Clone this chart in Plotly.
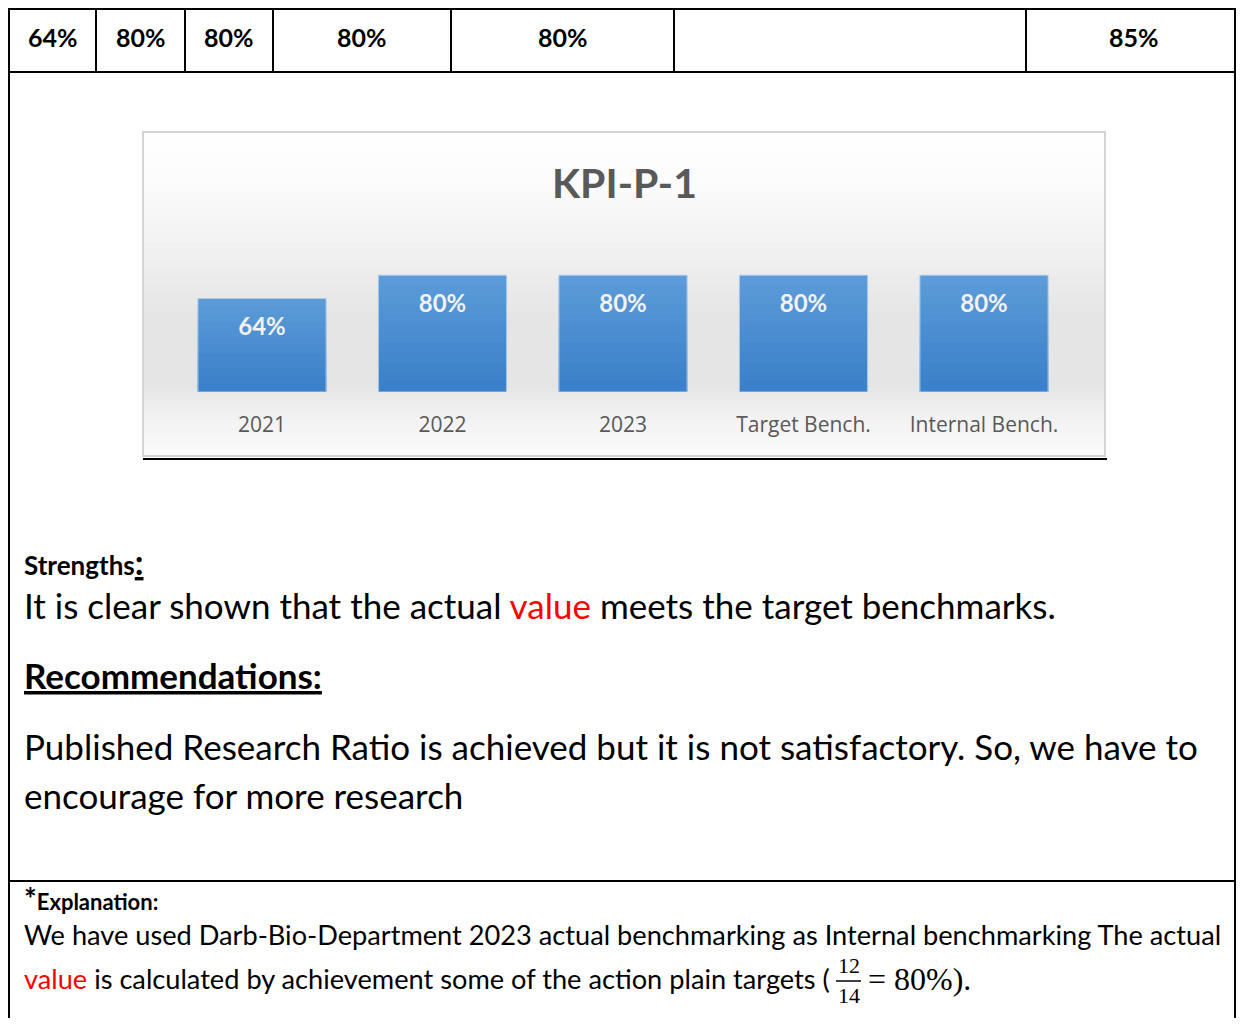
import plotly.graph_objects as go

# page size (the html body keeps its default 8px margin, so the figure is shifted by 8px)
W, H = 1244, 1026
OFF = 8
FW, FH = W - 2 * OFF, H - 2 * OFF
RIGHT = OFF + FW - 1  # last visible column for the right border

# top row of the table
top_row_values = ["64%", "80%", "80%", "80%", "80%", "", "85%"]
top_row_edges = [9, 96, 185, 273, 451, 674, 1026, 1241]

# chart data
categories = ["2021", "2022", "2023", "Target Bench.", "Internal Bench."]
values = [0.64, 0.80, 0.80, 0.80, 0.80]
chart_title = "KPI-P-1"


def px(x):
    return (x - OFF) / FW


def py(y):
    return 1 - (y - OFF) / FH


fig = go.Figure()

# bars, with a light-to-dark vertical shading done by overlaying shorter bars
top_rgb = (92, 155, 216)
bot_rgb = (58, 128, 202)
n = 12
for k in range(n):
    f = k / (n - 1)
    c = tuple(int(t + (b - t) * f) for t, b in zip(top_rgb, bot_rgb))
    fig.add_trace(go.Bar(
        x=categories, y=[v * (1 - k / n) for v in values], width=0.71,
        marker=dict(color="rgb(%d,%d,%d)" % c, line=dict(width=0)),
        hoverinfo="skip",
    ))
fig.add_trace(go.Bar(
    x=categories, y=values, width=0.71,
    marker=dict(color="rgba(0,0,0,0)", line=dict(color="#a9cbec", width=1)),
    hoverinfo="skip",
))
# value labels inside the bars
fig.add_trace(go.Scatter(
    x=categories, y=[v - 0.21 for v in values], mode="text",
    text=["<b>{:.0%}</b>".format(v) for v in values],
    textfont=dict(family="Lato", size=24, color="#f2f2f2"),
    hoverinfo="skip",
))

shapes = []
black = dict(color="black", width=2)

# chart area background (light gradient)
grad = [(132, 255), (185, 252), (250, 241), (320, 229), (385, 229), (415, 242),
        (456, 251)]
for (y0, c0), (y1, c1) in zip(grad[:-1], grad[1:]):
    m = 8
    for k in range(m):
        a = y0 + (y1 - y0) * k / m
        b = y0 + (y1 - y0) * (k + 1) / m
        c = int(c0 + (c1 - c0) * (k + 0.5) / m)
        shapes.append(dict(type="rect", xref="paper", yref="paper", layer="below",
                           x0=px(144), x1=px(1104), y0=py(b + 0.5), y1=py(a),
                           fillcolor="rgb({0},{0},{0})".format(c), line=dict(width=0)))
shapes.append(dict(type="rect", xref="paper", yref="paper", layer="below",
                   x0=px(143), x1=px(1105), y0=py(456), y1=py(132),
                   line=dict(color="#d4d4d4", width=2)))
shapes.append(dict(type="line", xref="paper", yref="paper",
                   x0=px(143), x1=px(1107), y0=py(459), y1=py(459), line=black))

# table borders
for yy in [9, 72, 881]:
    shapes.append(dict(type="line", xref="paper", yref="paper",
                       x0=px(8), x1=px(RIGHT + 1), y0=py(yy), y1=py(yy), line=black))
for e in top_row_edges[1:-1]:
    shapes.append(dict(type="line", xref="paper", yref="paper",
                       x0=px(e), x1=px(e), y0=py(8), y1=py(72), line=black))
for e in [top_row_edges[0], min(top_row_edges[-1], RIGHT)]:
    shapes.append(dict(type="line", xref="paper", yref="paper",
                       x0=px(e), x1=px(e), y0=py(8), y1=py(1026), line=black))

# fraction bar
shapes.append(dict(type="line", xref="paper", yref="paper",
                   x0=px(836), x1=px(861), y0=py(981), y1=py(981),
                   line=dict(color="black", width=1.5)))

ann = []
for i, v in enumerate(top_row_values):
    cx = (top_row_edges[i] + top_row_edges[i + 1]) / 2
    ann.append(dict(x=px(cx), y=py(37), text="<b>" + v + "</b>",
                    font=dict(family="Lato", size=25, color="black")))

ann.append(dict(x=px(624), y=py(183), text="<b>" + chart_title + "</b>",
                font=dict(family="Lato", size=41, color="#595959")))

body = dict(family="Lato", size=35, color="black")
small = dict(family="Lato", size=27.2, color="black")
red = "#ff0000"
ann += [
    dict(x=px(22), y=py(561), xanchor="left",
         text="<b>Strengths</b><b><u><span style='font-size:34px'>:</span></u></b>",
         font=dict(family="Lato", size=26, color="black")),
    dict(x=px(22), y=py(605), xanchor="left", font=body,
         text="It is clear shown that the actual <span style='color:%s'>value</span> meets the target benchmarks." % red),
    dict(x=px(22), y=py(675), xanchor="left",
         text="<b><u>Recommendations:</u></b>",
         font=dict(family="Lato", size=35, color="black")),
    dict(x=px(22), y=py(746), xanchor="left", font=body,
         text="Published Research Ratio is achieved but it is not satisfactory. So, we have to"),
    dict(x=px(22), y=py(795), xanchor="left", font=body,
         text="encourage for more research"),
    dict(x=px(22), y=py(898), xanchor="left",
         text="<b><span style='font-size:30px'>*</span>Explanation:</b>",
         font=dict(family="Lato", size=22, color="black")),
    dict(x=px(22), y=py(934), xanchor="left", font=small,
         text="We have used Darb-Bio-Department 2023 actual benchmarking as Internal benchmarking The actual"),
    dict(x=px(22), y=py(978), xanchor="left", font=small,
         text="<span style='color:%s'>value</span> is calculated by achievement some of the action plain targets (" % red),
    dict(x=px(849), y=py(965), text="12",
         font=dict(family="Liberation Serif", size=22, color="black")),
    dict(x=px(849), y=py(995), text="14",
         font=dict(family="Liberation Serif", size=22, color="black")),
    dict(x=px(866), y=py(979), xanchor="left", text="= 80%).",
         font=dict(family="Liberation Serif", size=32, color="black")),
]
for a in ann:
    a.update(xref="paper", yref="paper", showarrow=False)
    a.setdefault("xanchor", "center")
    a.setdefault("yanchor", "middle")

# axes placement: category spacing ~180.5px, first centre at x=262; zero line at y=392
fig.update_layout(
    width=FW, height=FH, margin=dict(l=0, r=0, t=0, b=0),
    paper_bgcolor="white", plot_bgcolor="rgba(0,0,0,0)",
    showlegend=False, shapes=shapes, annotations=ann, barmode="overlay",
    xaxis=dict(domain=[px(171.75), px(1074.25)], range=[-0.5, 4.5],
               showgrid=False, zeroline=False, showline=False, ticks="",
               tickfont=dict(family="Open Sans", size=21, color="#595959"),
               ticklabelstandoff=18, fixedrange=True),
    yaxis=dict(domain=[py(392), py(246)], range=[0, 1], visible=False,
               fixedrange=True),
)

fig.write_html("out.html")
